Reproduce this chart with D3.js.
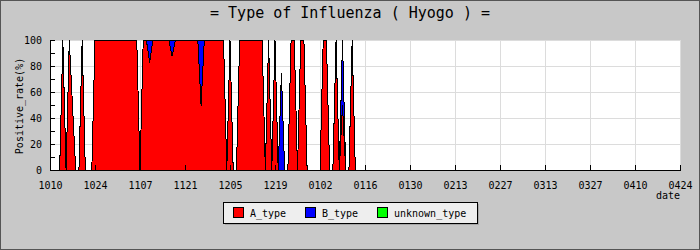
<!DOCTYPE html>
<html>
<head>
<meta charset="utf-8">
<script src="https://cdn.jsdelivr.net/npm/d3@7"></script>
<style>
  body { margin: 0; background: #c8c8c8; }
  svg { display: block; }
  text { font-family: "DejaVu Sans Mono", "Liberation Mono", monospace; fill: #000; }
</style>
</head>
<body>
<div id="chart"></div>
<script>
// tick labels on the date axis, one every 14 days starting 10 Oct
var tickLabels = ["1010", "1024", "1107", "1121", "1205", "1219", "0102",
  "0116", "0130", "0213", "0227", "0313", "0327", "0410", "0424"];

// daily positive rate (%) starting 10 Oct
var aType = [0, 0, 0, 0, 100, 0, 100, 50, 0, 0, 100, 0, 0, 0,
  100, 100, 100, 100, 100, 100, 100, 100, 100, 100, 100, 100, 100, 100,
  0, 100, 100, 83, 100, 100, 100, 100, 100, 100, 88, 100, 100, 100,
  100, 100, 100, 100, 100, 50, 100, 100, 100, 100, 100, 100, 100, 0,
  100, 0, 0, 100, 100, 100, 100, 100, 100, 100, 100, 0, 100, 0,
  100, 0, 0, 0, 0, 100, 100, 0, 100, 100, 0, 0, 0, 0,
  0, 100, 100, 0, 0, 100, 0, 50, 0, 0, 100, 0, 0, 0];
var bType = [0, 0, 0, 0, 0, 0, 0, 0, 0, 0, 0, 0, 0, 0,
  0, 0, 0, 0, 0, 0, 0, 0, 0, 0, 0, 0, 0, 0,
  0, 0, 0, 17, 0, 0, 0, 0, 0, 0, 12, 0, 0, 0,
  0, 0, 0, 0, 0, 50, 0, 0, 0, 0, 0, 0, 0, 0,
  0, 0, 0, 0, 0, 0, 0, 0, 0, 0, 0, 0, 0, 0,
  0, 0, 75, 0, 0, 0, 0, 0, 0, 0, 0, 0, 0, 0,
  0, 0, 0, 0, 0, 0, 0, 50, 0, 0, 0, 0, 0, 0];
var unknownType = aType.map(function() { return 0; });

var seriesNames = ["A_type", "B_type", "unknown_type"];
var seriesColors = ["#ff0000", "#0000ff", "#00ff00"];

var W = 700, H = 250;
var margin = {top: 40, right: 20, bottom: 80, left: 50};
var width = W - margin.left - margin.right,
    height = H - margin.top - margin.bottom;

var svg = d3.select("#chart").append("svg")
  .attr("width", W)
  .attr("height", H);

// outer frame
svg.append("rect")
  .attr("x", 0.5).attr("y", 0.5)
  .attr("width", W - 1).attr("height", H - 1)
  .attr("fill", "#c8c8c8")
  .attr("stroke", "#555");

// title
svg.append("text")
  .attr("x", W / 2).attr("y", 18)
  .attr("text-anchor", "middle")
  .style("font-size", "15px")
  .text("= Type of Influenza ( Hyogo ) =");

var g = svg.append("g")
  .attr("transform", "translate(" + margin.left + "," + margin.top + ")");

var x = d3.scaleLinear()
  .domain([0, (tickLabels.length - 1) * 14])
  .range([0, width]);
var y = d3.scaleLinear()
  .domain([0, 100])
  .range([height, 0]);

// plot background
g.append("rect")
  .attr("width", width).attr("height", height)
  .attr("fill", "#fff");

// grid
var tickDays = tickLabels.map(function(d, i) { return i * 14; });
g.append("g").selectAll("line")
  .data(tickDays)
  .enter().append("line")
  .attr("x1", function(d) { return Math.round(x(d)) + 0.5; })
  .attr("x2", function(d) { return Math.round(x(d)) + 0.5; })
  .attr("y1", 0).attr("y2", height)
  .attr("stroke", "#dcdcdc");
g.append("g").selectAll("line")
  .data([20, 40, 60, 80, 100])
  .enter().append("line")
  .attr("x1", 0).attr("x2", width)
  .attr("y1", function(d) { return y(d) + 0.5; })
  .attr("y2", function(d) { return y(d) + 0.5; })
  .attr("stroke", "#dcdcdc");

// stacked areas
var rows = aType.map(function(v, i) {
  return {A_type: v, B_type: bType[i], unknown_type: unknownType[i]};
});
var layers = d3.stack().keys(seriesNames)(rows);

var area = d3.area()
  .x(function(d, i) { return x(i); })
  .y0(function(d) { return y(d[0]); })
  .y1(function(d) { return y(d[1]); });
var line = d3.line()
  .x(function(d, i) { return x(i); })
  .y(function(d) { return y(d[1]); });

g.selectAll(".layer")
  .data(layers)
  .enter().append("path")
  .attr("class", "layer")
  .attr("d", area)
  .attr("fill", function(d, i) { return seriesColors[i]; })
  .attr("shape-rendering", "crispEdges");

g.selectAll(".edge")
  .data(layers)
  .enter().append("path")
  .attr("class", "edge")
  .attr("d", line)
  .attr("transform", "translate(0,0.5)")
  .attr("fill", "none")
  .attr("stroke", "#000")
  .attr("stroke-width", 1)
  .attr("shape-rendering", "crispEdges");

// axes
var xAxis = g.append("g")
  .attr("transform", "translate(0," + height + ")")
  .call(d3.axisBottom(x)
    .tickValues(tickDays)
    .tickFormat(function(d, i) { return tickLabels[i]; })
    .tickSizeInner(-5).tickSizeOuter(0)
    .tickPadding(12));

var yAxis = g.append("g")
  .call(d3.axisLeft(y)
    .tickValues(d3.range(0, 101, 10))
    .tickFormat(function(d) { return d % 20 === 0 ? d : ""; })
    .tickSizeInner(-5).tickSizeOuter(0)
    .tickPadding(8));

[xAxis, yAxis].forEach(function(a) {
  a.selectAll("text").style("font-size", "10px").style("font-family", "DejaVu Sans Mono, monospace");
  a.selectAll("line, path").attr("stroke", "#000");
  a.select(".domain").attr("shape-rendering", "crispEdges");
});

// axis titles
svg.append("text")
  .attr("transform", "translate(23,106) rotate(-90)")
  .attr("text-anchor", "middle")
  .style("font-size", "10px")
  .text("Positive_rate(%)");
svg.append("text")
  .attr("x", 680).attr("y", 199)
  .attr("text-anchor", "end")
  .style("font-size", "10px")
  .text("date");

// legend
var legend = svg.append("g").attr("transform", "translate(223,202)");
legend.append("rect")
  .attr("x", 2).attr("y", 2).attr("width", 254).attr("height", 21)
  .attr("fill", "#a8a8a8");
legend.append("rect")
  .attr("x", 0.5).attr("y", 0.5).attr("width", 254).attr("height", 21)
  .attr("fill", "#eeeeee").attr("stroke", "#000");
var legX = [10, 82, 154];
seriesNames.forEach(function(name, i) {
  legend.append("rect")
    .attr("x", legX[i] + 0.5).attr("y", 5.5)
    .attr("width", 10).attr("height", 10)
    .attr("fill", seriesColors[i]).attr("stroke", "#000");
  legend.append("text")
    .attr("x", legX[i] + 17).attr("y", 14.5)
    .style("font-size", "10px")
    .text(name);
});
</script>
</body>
</html>
